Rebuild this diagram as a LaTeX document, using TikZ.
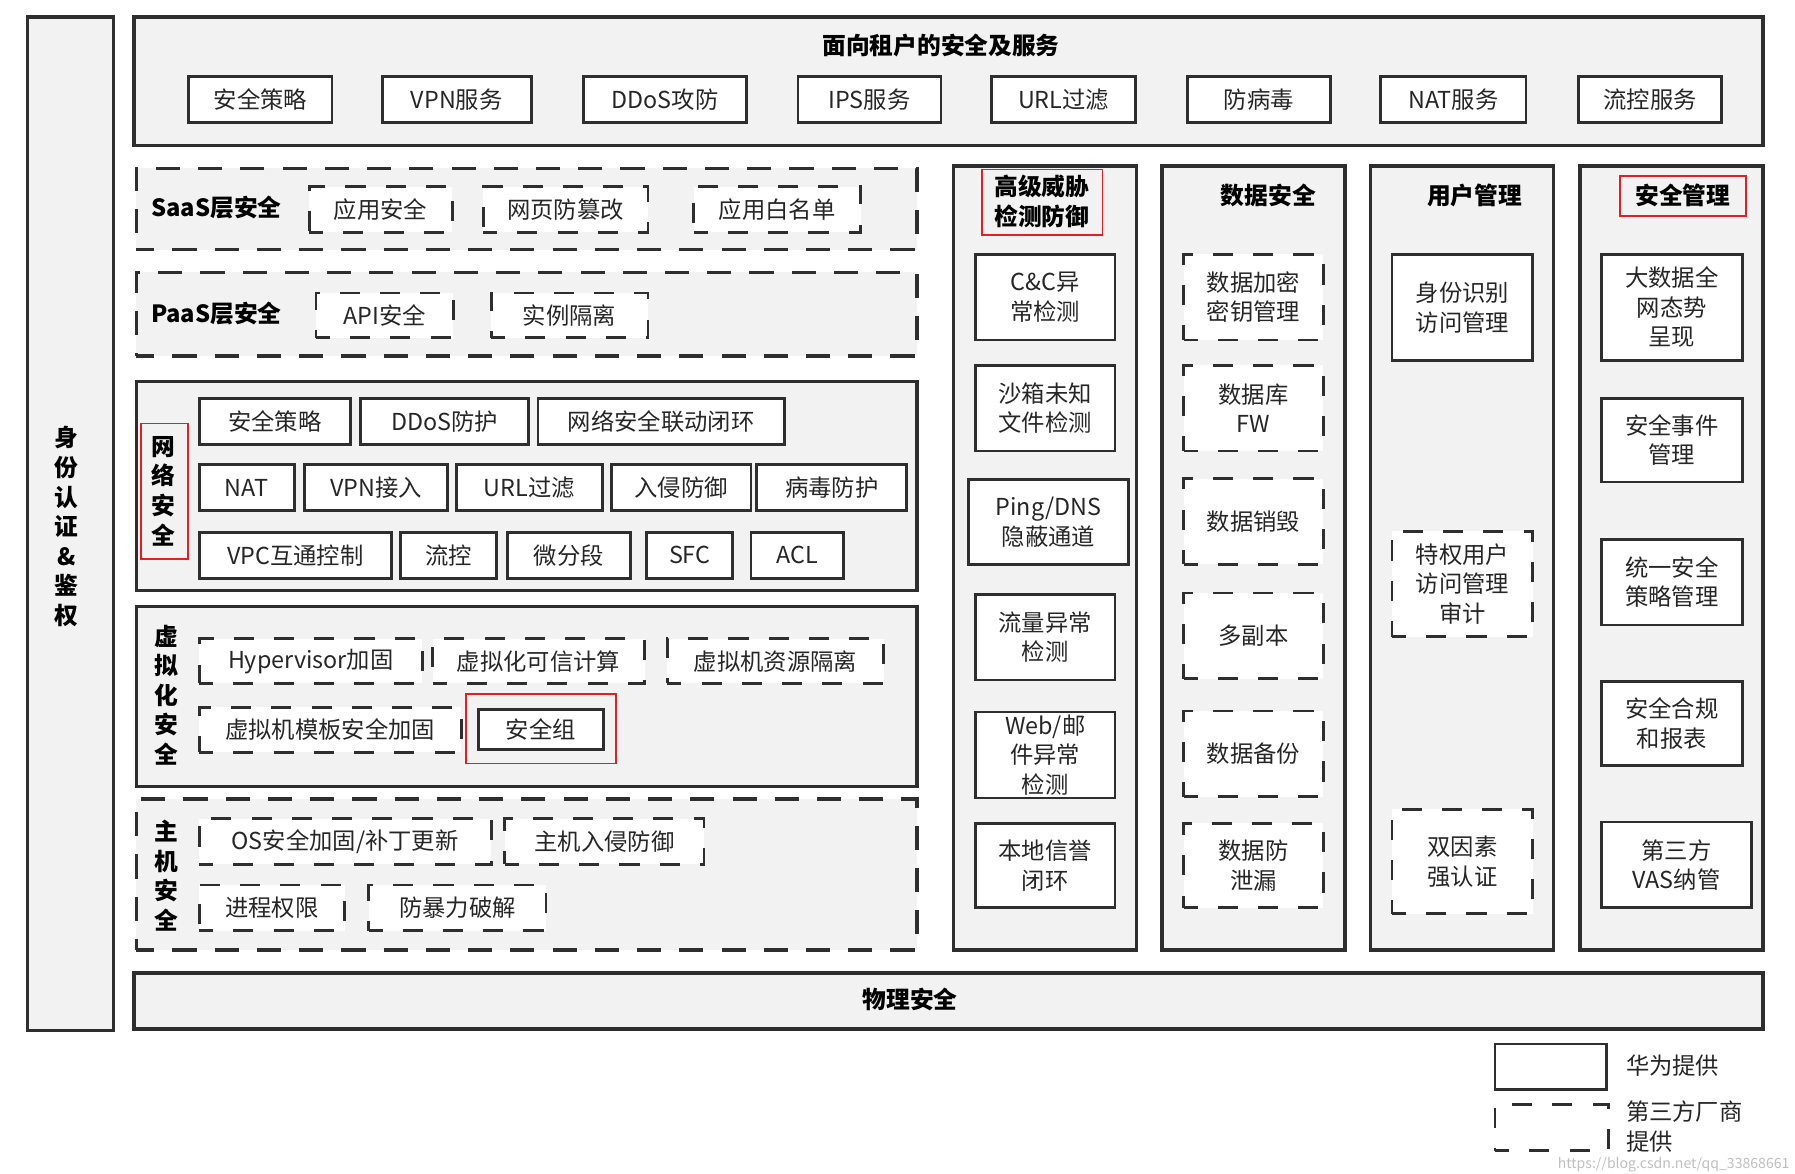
\documentclass[tikz,border=0pt]{standalone}
\usepackage{fontspec}
\setmainfont{Noto Sans CJK SC}
\usetikzlibrary{fit}
\definecolor{panel}{HTML}{F2F2F2}
\definecolor{edge}{HTML}{2E2E2E}
\definecolor{hl}{HTML}{E31E24}
\tikzset{
 base/.style={draw=edge, line width=1.4pt, inner sep=0pt, outer sep=0pt},
 panelbox/.style={base, fill=panel, line width=1.7pt},
 panelDash/.style={panelbox, dash pattern=on 12pt off 9pt, dash phase=3pt},
 itembox/.style={base, fill=white},
 itemDash/.style={itembox, dash pattern=on 10pt off 10pt, dash phase=3pt},
 lbl/.style={font=\fontsize{11.6}{14.7}\selectfont, align=center, inner sep=0pt, text=black!85},
 ttl/.style={font=\fontsize{11.8}{14.7}\selectfont\bfseries, align=center, inner sep=0pt, text=black},
 redbox/.style={draw=hl, line width=0.9pt, inner sep=0pt, outer sep=0pt},
}
\newcommand\bx[7]{\node[#6, fit={(#2,#3) (#4,#5)}] (#1) {};
 \node[lbl] (#1-t) at (#1.center) {#7};}
\newcommand\pn[6]{\node[#6, fit={(#2,#3) (#4,#5)}] (#1) {};}
\begin{document}
\begin{tikzpicture}[x=0.02cm, y=-0.02cm]
\useasboundingbox[fill=white] (0,0) rectangle (1568,1025);

% containers
\pn{idbar}{24}{15}{99}{900}{panelbox}
\pn{top}{117}{15}{1540}{127}{panelbox}
\pn{saas}{119}{147}{801}{218}{panelDash}
\pn{paas}{119}{238}{801}{311}{panelDash}
\pn{net}{119}{333}{801}{516}{panelbox}
\pn{virt}{119}{530}{801}{687}{panelbox}
\pn{host}{119}{698}{801}{830}{panelDash}
\pn{phys}{117}{850}{1540}{899}{panelbox}
\pn{c1}{833}{145}{993}{830}{panelbox}
\pn{c2}{1015}{145}{1175}{830}{panelbox}
\pn{c3}{1197}{145}{1357}{830}{panelbox}
\pn{c4}{1380}{145}{1540}{830}{panelbox}

% titles
\node[ttl] (idt) at (58,460) {身\\份\\认\\证\\\&\\鉴\\权};
\node[ttl] (topt) at (822,40) {面向租户的安全及服务};
\node[ttl] (saast) at (189,181) {SaaS层安全};
\node[ttl] (paast) at (189,274) {PaaS层安全};
\node[ttl] (nett) at (143,429) {网\\络\\安\\全};
\node[ttl] (virtt) at (145,607) {虚\\拟\\化\\安\\全};
\node[ttl] (hostt) at (145,765) {主\\机\\安\\全};
\node[ttl] (physt) at (795,873) {物理安全};
\node[ttl] (c1t) at (910,176) {高级威胁\\检测防御};
\node[ttl] (c2t) at (1108,171) {数据安全};
\node[ttl] (c3t) at (1288,171) {用户管理};
\node[ttl] (c4t) at (1470,171) {安全管理};

% top services
\bx{t1}{165}{67}{290}{107}{itembox}{安全策略}
\bx{t2}{334}{67}{464}{107}{itembox}{VPN服务}
\bx{t3}{510}{67}{652}{107}{itembox}{DDoS攻防}
\bx{t4}{697}{67}{822}{107}{itembox}{IPS服务}
\bx{t5}{866}{67}{992}{107}{itembox}{URL过滤}
\bx{t6}{1037}{67}{1162}{107}{itembox}{防病毒}
\bx{t7}{1206}{67}{1333}{107}{itembox}{NAT服务}
\bx{t8}{1379}{67}{1504}{107}{itembox}{流控服务}

% SaaS / PaaS
\bx{s1}{270}{163}{395}{203}{itemDash}{应用安全}
\bx{s2}{422}{163}{566}{203}{itemDash}{网页防篡改}
\bx{s3}{606}{163}{752}{203}{itemDash}{应用白名单}
\bx{p1}{276}{256}{396}{295}{itemDash}{API安全}
\bx{p2}{429}{256}{566}{295}{itemDash}{实例隔离}

% network
\bx{n1}{174}{348}{306}{388}{itembox}{安全策略}
\bx{n2}{315}{348}{462}{388}{itembox}{DDoS防护}
\bx{n3}{470}{348}{685}{388}{itembox}{网络安全联动闭环}
\bx{n4}{174}{406}{257}{446}{itembox}{NAT}
\bx{n5}{266}{406}{391}{446}{itembox}{VPN接入}
\bx{n6}{399}{406}{526}{446}{itembox}{URL过滤}
\bx{n7}{534}{406}{656}{446}{itembox}{入侵防御}
\bx{n8}{661}{406}{792}{446}{itembox}{病毒防护}
\bx{n9}{174}{465}{342}{505}{itembox}{VPC互通控制}
\bx{n10}{350}{465}{434}{505}{itembox}{流控}
\bx{n11}{443}{465}{551}{505}{itembox}{微分段}
\bx{n12}{565}{465}{640}{505}{itembox}{SFC}
\bx{n13}{656}{465}{737}{505}{itembox}{ACL}

% virtualization
\bx{v1}{174}{558}{369}{597}{itemDash}{Hypervisor加固}
\bx{v2}{378}{558}{563}{597}{itemDash}{虚拟化可信计算}
\bx{v3}{583}{558}{772}{597}{itemDash}{虚拟机资源隔离}
\bx{v4}{174}{618}{403}{657}{itemDash}{虚拟机模板安全加固}
\bx{v5}{418}{620}{527}{655}{itembox}{安全组}

% host
\bx{h1}{174}{715}{429}{755}{itemDash}{OS安全加固/补丁更新}
\bx{h2}{441}{715}{615}{755}{itemDash}{主机入侵防御}
\bx{h3}{174}{773}{301}{813}{itemDash}{进程权限}
\bx{h4}{322}{773}{477}{813}{itemDash}{防暴力破解}

% column 1
\bx{a1}{852}{222}{974}{297}{itembox}{C\&C异\\常检测}
\bx{a2}{852}{319}{974}{394}{itembox}{沙箱未知\\文件检测}
\bx{a3}{846}{419}{986}{493}{itembox}{Ping/DNS\\隐蔽通道}
\bx{a4}{852}{519}{974}{594}{itembox}{流量异常\\检测}
\bx{a5}{852}{622}{974}{697}{itembox}{Web/邮\\件异常\\检测}
\bx{a6}{852}{719}{974}{793}{itembox}{本地信誉\\闭环}

% column 2
\bx{b1}{1034}{222}{1156}{297}{itemDash}{数据加密\\密钥管理}
\bx{b2}{1034}{319}{1156}{394}{itemDash}{数据库\\FW}
\bx{b3}{1034}{418}{1156}{493}{itemDash}{数据销毁}
\bx{b4}{1034}{518}{1156}{593}{itemDash}{多副本}
\bx{b5}{1034}{621}{1156}{696}{itemDash}{数据备份}
\bx{b6}{1034}{719}{1156}{793}{itemDash}{数据防\\泄漏}

% column 3
\bx{u1}{1216}{222}{1339}{315}{itembox}{身份识别\\访问管理}
\bx{u2}{1216}{464}{1339}{556}{itemDash}{特权用户\\访问管理\\审计}
\bx{u3}{1216}{707}{1339}{798}{itemDash}{双因素\\强认证}

% column 4
\bx{m1}{1399}{222}{1522}{315}{itembox}{大数据全\\网态势\\呈现}
\bx{m2}{1399}{348}{1522}{421}{itembox}{安全事件\\管理}
\bx{m3}{1399}{471}{1522}{546}{itembox}{统一安全\\策略管理}
\bx{m4}{1399}{595}{1522}{669}{itembox}{安全合规\\和报表}
\bx{m5}{1399}{718}{1530}{793}{itembox}{第三方\\VAS纳管}

% red highlights
\node[redbox, fit={(123,370) (164,488)}] (r1) {};
\node[redbox, fit={(407,606) (538,667)}] (r2) {};
\node[redbox, fit={(858,148) (963,205)}] (r3) {};
\node[redbox, fit={(1415,154) (1525,189)}] (r4) {};

% legend
\node[itembox, fit={(1306,912) (1403,952)}] (lg1) {};
\node[lbl, anchor=west] (lg1t) at (1420,931) {华为提供};
\node[itemDash, fit={(1306,965) (1405,1005)}] (lg2) {};
\node[lbl, anchor=west, align=left] (lg2t) at (1420,984) {第三方厂商\\提供};
\node[font=\fontsize{7}{8}\selectfont, text=black!25, inner sep=0pt] (wm) at (1462,1017) {https://blog.csdn.net/qq\_33868661};
\end{tikzpicture}
\end{document}
